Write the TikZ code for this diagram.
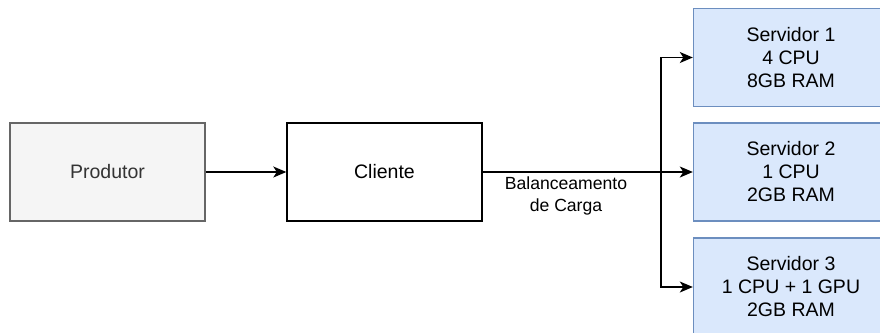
\documentclass[tikz,border=0pt]{standalone}
\usepackage{fontspec}
\setmainfont{Liberation Sans}
\usetikzlibrary{arrows.meta}
\definecolor{grayfill}{HTML}{F5F5F5}
\definecolor{graystroke}{HTML}{666666}
\definecolor{graytext}{HTML}{333333}
\definecolor{bluefill}{HTML}{DAE8FC}
\definecolor{bluestroke}{HTML}{6C8EBF}
\tikzset{
  box/.style={draw, line width=1.4pt, minimum width=195pt, minimum height=98pt,
    inner sep=0pt, align=center, font=\fontsize{19.5}{23}\selectfont},
  greybox/.style={box, fill=grayfill, draw=graystroke, text=graytext},
  plainbox/.style={box, fill=white, draw=black},
  serverbox/.style={box, fill=bluefill, draw=bluestroke},
  link/.style={line width=1.4pt, -{Stealth[length=13pt, width=11pt, inset=3.5pt]}},
}
\begin{document}
\begin{tikzpicture}[x=1pt, y=-1pt]
  \useasboundingbox (0,0) rectangle (880,332);
  \clip (0,0) rectangle (880,332);
  \node[greybox] (prod) at (107.5,172) {Produtor};
  \node[plainbox] (cli) at (384.5,172) {Cliente};
  \node[serverbox] (s1) at (791,57.5) {Servidor 1\\4 CPU\\8GB RAM};
  \node[serverbox] (s2) at (791,172) {Servidor 2\\1 CPU\\2GB RAM};
  \node[serverbox] (s3) at (791,287) {Servidor 3\\1 CPU + 1 GPU\\2GB RAM};
  \coordinate (split) at (661,172);
  \draw[link] (prod) -- (cli);
  \draw[link] (cli.east) -- (s2.west);
  \draw[link] (split) |- (s1.west);
  \draw[link] (split) |- (s3.west);
  \node[font=\fontsize{17.6}{22}\selectfont, align=center] (lbl) at (566,196) {Balanceamento\\de Carga};
\end{tikzpicture}
\end{document}
